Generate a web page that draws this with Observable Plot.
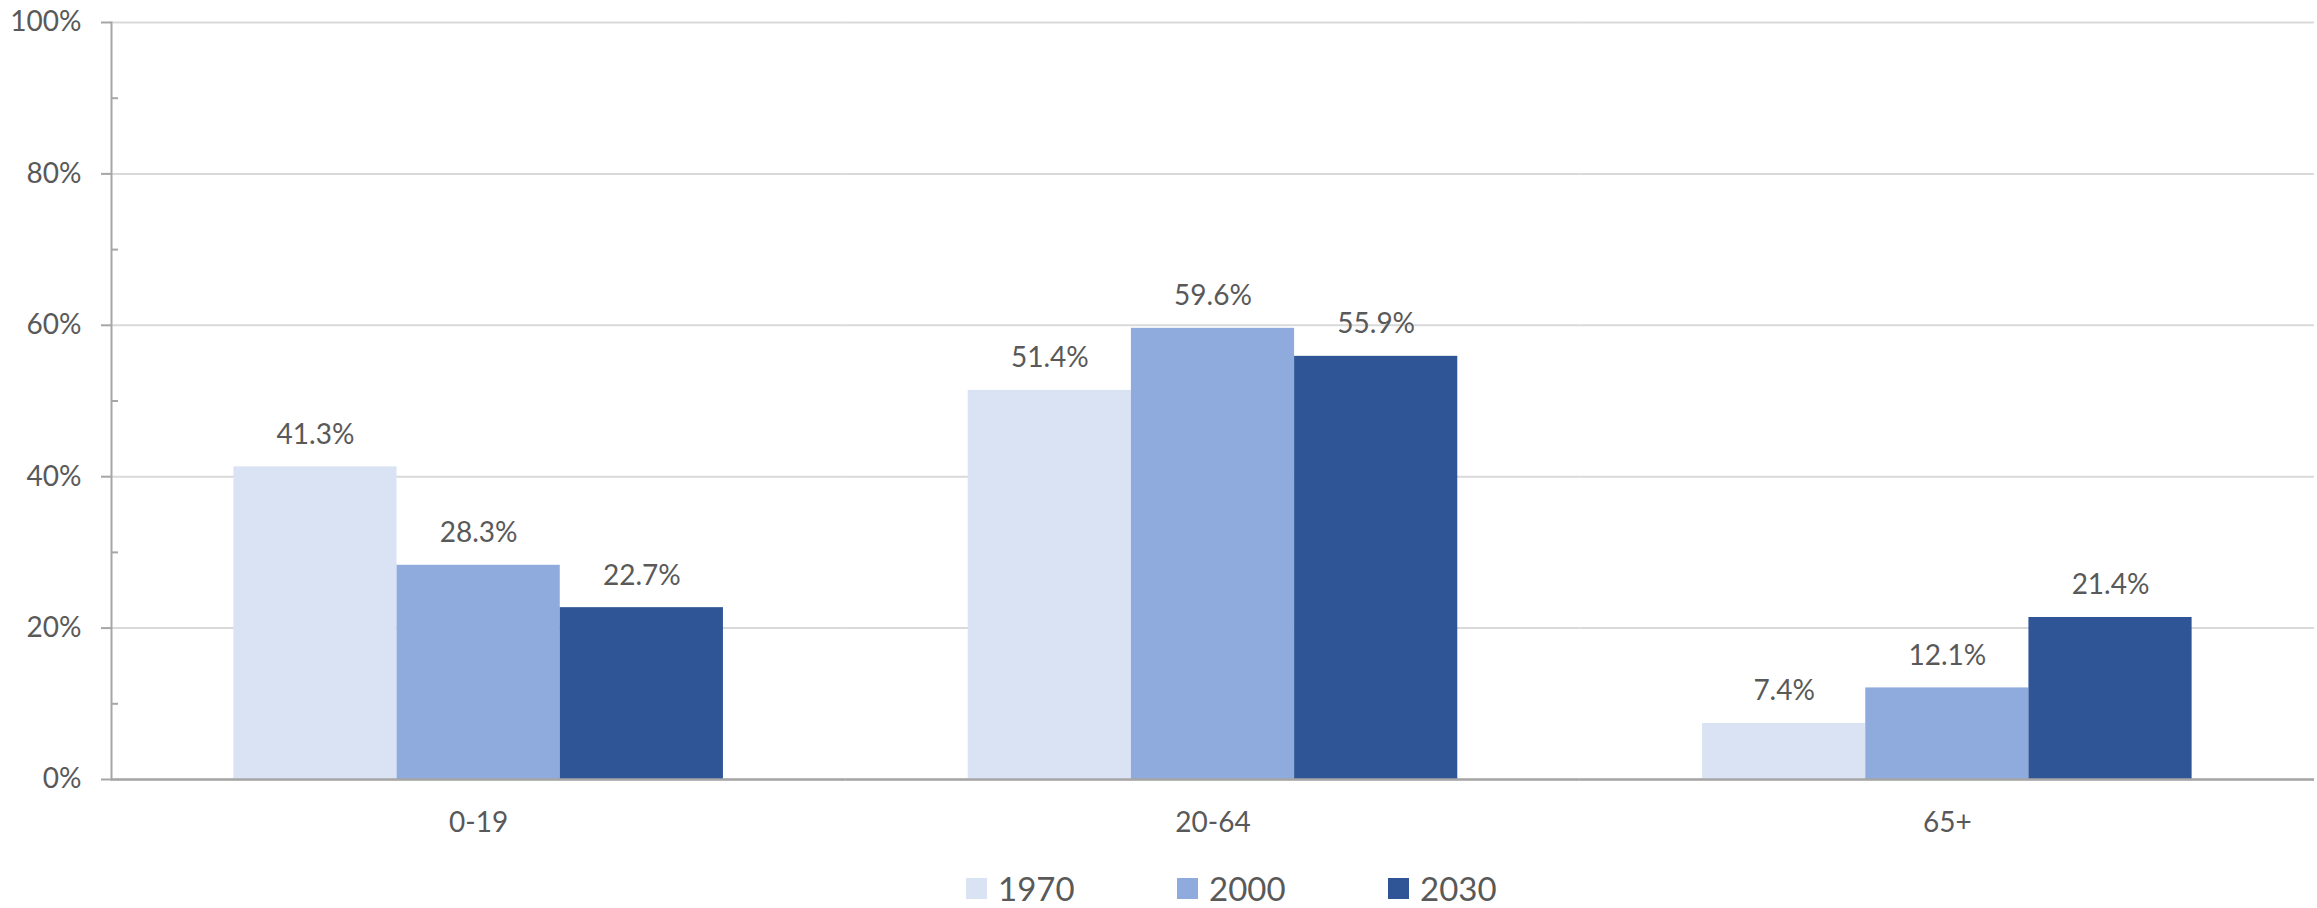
<!DOCTYPE html>
<html>
<head>
<meta charset="utf-8">
<script src="https://cdn.jsdelivr.net/npm/d3@7"></script>
<script src="https://cdn.jsdelivr.net/npm/@observablehq/plot@0.6"></script>
<style>
  html, body { margin: 0; padding: 0; background: #fff; overflow: hidden; }
  #wrap { position: relative; width: 2317px; height: 908px; font-family: Lato, "Open Sans", sans-serif; }
  #legend { position: absolute; left: 966px; top: 868px; height: 40px; display: flex; align-items: center; }
  .item { display: flex; align-items: center; width: 211px; font-size: 33px; line-height: 36px; color: #595959; }
  .sw { width: 21px; height: 21px; margin-right: 11px; }
</style>
</head>
<body>
<div id="wrap"><div id="chart"></div><div id="legend"></div></div>
<script>
const groups = ["0-19", "20-64", "65+"];
const years = ["1970", "2000", "2030"];
const values1970 = [41.3, 51.4, 7.4];
const values2000 = [28.3, 59.6, 12.1];
const values2030 = [22.7, 55.9, 21.4];
const colors = ["#dae3f3", "#8faadc", "#2f5597"];
const majorTicks = [0, 20, 40, 60, 80, 100];
const minorTicks = [10, 30, 50, 70, 90];

const series = [values1970, values2000, values2030];
const data = [];
groups.forEach((g, gi) => years.forEach((y, yi) => data.push({group: g, year: y, value: series[yi][gi]})));

const plot = Plot.plot({
  width: 2317,
  height: 860,
  marginLeft: 111,
  marginRight: 3,
  marginTop: 22,
  marginBottom: 81,
  style: {fontFamily: "Lato, 'Open Sans', sans-serif", fontSize: "28px", color: "#595959", background: "#fff"},
  fx: {domain: groups, padding: 0, round: false, label: null},
  x: {domain: years, paddingInner: 0, paddingOuter: 0.75, round: false, axis: null},
  y: {domain: [0, 100], axis: null, label: null},
  color: {domain: years, range: colors},
  marks: [
    Plot.gridY(majorTicks, {stroke: "#d9d9d9", strokeOpacity: 1, strokeWidth: 2}),
    Plot.barY(data, {fx: "group", x: "year", y: "value", fill: "year"}),
    Plot.ruleY([0], {stroke: "#a6a6a6", strokeWidth: 2.5}),
    Plot.frame({anchor: "left", facetAnchor: "left", stroke: "#a6a6a6", strokeWidth: 2}),
    Plot.axisY(majorTicks, {anchor: "left", text: null, label: null, tickSize: 10, stroke: "#a6a6a6", strokeWidth: 2}),
    Plot.axisY(minorTicks, {anchor: "left", text: null, label: null, tickSize: -7, stroke: "#a6a6a6", strokeWidth: 2}),
    Plot.axisY(majorTicks, {anchor: "left", tickSize: 0, tickPadding: 30, fill: "#595959", fontSize: 28, tickFormat: d => d + "%", label: null}),
    Plot.axisFx({anchor: "bottom", tickSize: 0, tickPadding: 33, fill: "#595959", fontSize: 28, label: null}),
    Plot.text(data, {fx: "group", x: "year", y: "value", text: d => d.value.toFixed(1) + "%", dy: -32, fill: "#595959", fontSize: 28})
  ]
});
document.getElementById("chart").appendChild(plot);

const legend = document.getElementById("legend");
years.forEach((y, i) => {
  const item = document.createElement("div");
  item.className = "item";
  const sw = document.createElement("div");
  sw.className = "sw";
  sw.style.background = colors[i];
  const t = document.createElement("span");
  t.textContent = y;
  item.appendChild(sw);
  item.appendChild(t);
  legend.appendChild(item);
});
</script>
</body>
</html>
